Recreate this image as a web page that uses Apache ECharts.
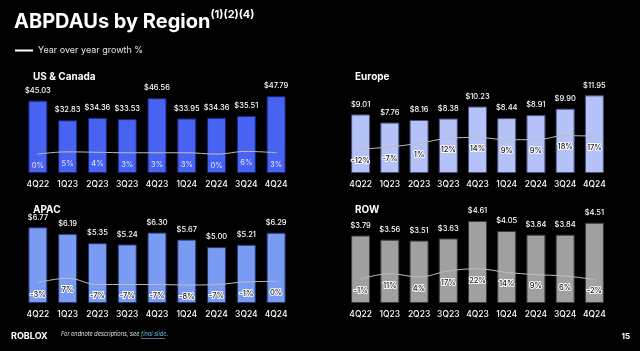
<!DOCTYPE html>
<html lang="en">
<head>
<meta charset="UTF-8">
<title>ABPDAUs by Region</title>
<style>
  html, body { margin: 0; padding: 0; background: #000; }
  #container { width: 640px; height: 351px; }
</style>
</head>
<body>
<div id="container"></div>
<script src="https://cdn.jsdelivr.net/npm/echarts@6/dist/echarts.min.js"></script>
<script>
var quarters = ['4Q22', '1Q23', '2Q23', '3Q23', '4Q23', '1Q24', '2Q24', '3Q24', '4Q24'];

var usCanada = [45.03, 32.83, 34.36, 33.53, 46.56, 33.95, 34.36, 35.51, 47.79];
var usCanadaGrowth = [0, 5, 4, 3, 3, 3, 0, 6, 3];

var europe = [9.01, 7.76, 8.16, 8.38, 10.23, 8.44, 8.91, 9.90, 11.95];
var europeGrowth = [-12, -7, 1, 12, 14, 9, 9, 18, 17];

var apac = [6.77, 6.19, 5.35, 5.24, 6.30, 5.67, 5.00, 5.21, 6.29];
var apacGrowth = [-3, 7, -7, -7, -7, -8, -7, -1, 0];

var rowRegion = [3.79, 3.56, 3.51, 3.63, 4.61, 4.05, 3.84, 3.84, 4.51];
var rowGrowth = [-1, 11, 4, 17, 22, 14, 9, 6, -2];

var FONT = 'Inter';
var LINE_NAME = 'Year over year growth %';

// one entry per panel: grid box, bar colour, axis ranges
var panels = [
  { name: 'US & Canada', bars: usCanada, growth: usCanadaGrowth, color: '#4863f1', border: '#17247a',
    grid: { left: 23, right: 349, top: 83, height: 90 }, barMax: 56, gMin: -42, gMax: 158,
    pctColor: '#d6dcff', pctBorder: 0, title: { left: 28, top: 67 } },
  { name: 'Europe', bars: europe, growth: europeGrowth, color: '#b5c2f8', border: '#46507a',
    grid: { left: 346, right: 31, top: 83, height: 90 }, barMax: 13.85, gMin: -65, gMax: 135,
    pctColor: '#1a1a1a', pctBorder: 2, title: { left: 350, top: 67 } },
  { name: 'APAC', bars: apac, growth: apacGrowth, color: '#7a9bf3', border: '#26346e',
    grid: { left: 23, right: 349, top: 213, height: 90 }, barMax: 8.05, gMin: -48, gMax: 152,
    pctColor: '#1a1a1a', pctBorder: 2, title: { left: 28, top: 200 } },
  { name: 'ROW', bars: rowRegion, growth: rowGrowth, color: '#a0a0a0', border: '#3c3c3c',
    grid: { left: 346, right: 31, top: 213, height: 90 }, barMax: 5.06, gMin: -54, gMax: 146,
    pctColor: '#1a1a1a', pctBorder: 2, title: { left: 350, top: 200 } }
];

var titles = [{
  text: '{a|ABPDAUs by Region}{b|(1)(2)(4)}',
  left: 9, top: 4,
  textStyle: {
    rich: {
      a: { fontFamily: FONT, fontSize: 20, fontWeight: 'bold', color: '#fff', lineHeight: 26 },
      b: { fontFamily: FONT, fontSize: 11, fontWeight: 'bold', color: '#fff', verticalAlign: 'top', lineHeight: 13 }
    }
  }
}];
var grids = [], xAxes = [], yAxes = [], series = [];

panels.forEach(function (p, i) {
  titles.push({
    text: p.name, left: p.title.left, top: p.title.top,
    textStyle: { fontFamily: FONT, fontSize: 10, fontWeight: 'bold', color: '#fff' }
  });
  grids.push(p.grid);
  xAxes.push({
    type: 'category', gridIndex: i, data: quarters,
    axisLine: { show: false }, axisTick: { show: false },
    axisLabel: { interval: 0, color: '#fff', fontFamily: FONT, fontSize: 8.5, fontWeight: 500, margin: 7 }
  });
  yAxes.push({ type: 'value', gridIndex: i, min: 0, max: p.barMax, show: false, splitLine: { show: false } });
  yAxes.push({ type: 'value', gridIndex: i, min: p.gMin, max: p.gMax, show: false, splitLine: { show: false } });

  series.push({
    type: 'bar', name: p.name, xAxisIndex: i, yAxisIndex: i * 2,
    data: p.bars, barWidth: 19,
    itemStyle: { color: p.color, borderColor: p.border, borderWidth: 1 },
    label: {
      show: true, position: 'top', distance: 6,
      color: '#fff', fontFamily: FONT, fontSize: 7.5, fontWeight: 500,
      formatter: function (d) { return '$' + d.value.toFixed(2); }
    }
  });
});

panels.forEach(function (p, i) {
  series.push({
    type: 'line', name: LINE_NAME, xAxisIndex: i, yAxisIndex: i * 2 + 1,
    data: p.growth, smooth: 0.4,
    symbol: 'circle', symbolSize: 1,
    itemStyle: { color: '#bdbdbd' },
    lineStyle: { color: '#bdbdbd', width: 1 },
    label: {
      show: true, position: 'bottom', distance: 7,
      color: p.pctColor, textBorderColor: '#ffffff', textBorderWidth: p.pctBorder,
      fontFamily: FONT, fontSize: 7.5, fontWeight: 500,
      formatter: function (d) { return d.value + '%'; }
    },
    z: 5
  });
});

var myChart = echarts.init(document.getElementById('container'));
myChart.setOption({
  backgroundColor: '#000',
  animation: false,
  title: titles,
  legend: {
    left: 10, top: 41,
    itemWidth: 18, itemHeight: 2, itemGap: 7,
    textStyle: { color: '#e6e6e6', fontFamily: FONT, fontSize: 9 },
    data: [{ name: LINE_NAME, icon: 'rect', itemStyle: { color: '#fff' } }]
  },
  grid: grids,
  xAxis: xAxes,
  yAxis: yAxes,
  series: series,
  graphic: [
    { type: 'text', left: 11, top: 332,
      style: { text: 'ROBLOX', fill: '#fff', font: 'bold 9px ' + FONT } },
    { type: 'text', left: 61, top: 331,
      style: { text: '{n|For endnote descriptions, see }{l|final slide}{n|.}',
        rich: {
          n: { fill: '#e0e0e0', font: 'italic 5.6px ' + FONT },
          l: { fill: '#5fc2d8', font: 'italic 5.6px ' + FONT }
        } } },
    { type: 'rect', left: 141, top: 338, shape: { width: 24, height: 0.6 }, style: { fill: '#5fc2d8' } },
    { type: 'text', right: 10, top: 333,
      style: { text: '15', fill: '#fff', font: 'bold 8px ' + FONT } }
  ]
});
</script>
</body>
</html>
